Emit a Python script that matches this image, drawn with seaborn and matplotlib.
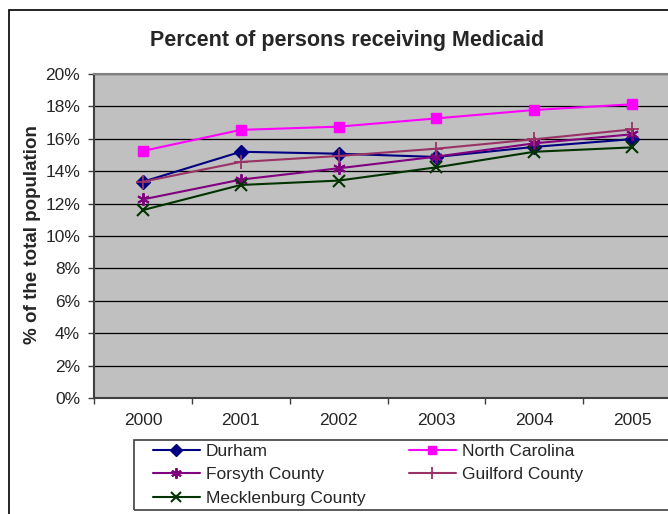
import matplotlib
matplotlib.use("Agg")
import matplotlib.pyplot as plt
from matplotlib.patches import Rectangle
from matplotlib.ticker import FixedLocator, FuncFormatter
import seaborn as sns
import pandas as pd
import numpy as np

years = ["2000", "2001", "2002", "2003", "2004", "2005"]
durham = [13.35, 15.20, 15.08, 14.88, 15.50, 15.98]
north_carolina = [15.25, 16.55, 16.75, 17.26, 17.78, 18.13]
forsyth = [12.26, 13.48, 14.18, 14.90, 15.72, 16.28]
guilford = [13.35, 14.57, 14.94, 15.39, 15.97, 16.58]
mecklenburg = [11.60, 13.15, 13.42, 14.24, 15.20, 15.47]

series_names = ["Durham", "North Carolina", "Forsyth County",
                "Guilford County", "Mecklenburg County"]
series_values = [durham, north_carolina, forsyth, guilford, mecklenburg]
y_ticks = [0, 2, 4, 6, 8, 10, 12, 14, 16, 18, 20]

title = "Percent of persons receiving Medicaid"
y_label = "% of the total population"

sns.set_style("white")
plt.rcParams["font.family"] = ["Liberation Sans", "DejaVu Sans"]

styles = {
    "Durham": dict(color="#000080", marker="D", markersize=7.2, markeredgewidth=1.0),
    "North Carolina": dict(color="#FF00FF", marker="s", markersize=6.8, markeredgewidth=1.0),
    "Forsyth County": dict(color="#800080", marker=(6, 2, 0), markersize=9, markeredgewidth=1.4),
    "Guilford County": dict(color="#993366", marker="+", markersize=10, markeredgewidth=1.3),
    "Mecklenburg County": dict(color="#003300", marker="x", markersize=8, markeredgewidth=1.5),
}

W, H = 668, 514
fig = plt.figure(figsize=(W / 100, H / 100), dpi=100)
ax = fig.add_axes([94 / W, 1 - 398 / H, (681 - 94) / W, 324 / H])
ax.set_facecolor("#C0C0C0")

df = pd.DataFrame({
    "Year": np.tile(years, len(series_names)),
    "Series": np.repeat(series_names, len(years)),
    "Value": np.concatenate(series_values),
})

for name in series_names:
    st = styles[name]
    sub = df[df["Series"] == name]
    sns.lineplot(data=sub, x="Year", y="Value", ax=ax, label=name,
                 color=st["color"], marker=st["marker"],
                 markersize=st["markersize"],
                 markeredgecolor=st["color"], markerfacecolor=st["color"],
                 markeredgewidth=st["markeredgewidth"], linewidth=1.5,
                 zorder=3)

ax.set_xlim(-0.5, len(years) - 0.5)
ax.set_ylim(0, 20)
ax.set_xlabel("")
ax.set_ylabel("")

ax.yaxis.set_major_locator(FixedLocator(y_ticks))
ax.yaxis.set_major_formatter(FuncFormatter(lambda v, p: f"{v:.0f}%"))
ax.grid(axis="y", color="black", linewidth=0.9, zorder=1)
ax.set_axisbelow(True)

# category boundaries as major ticks, labels on minor ticks at centers
ax.xaxis.set_major_locator(FixedLocator(np.arange(-0.5, len(years), 1.0)))
ax.xaxis.set_major_formatter(FuncFormatter(lambda v, p: ""))
ax.xaxis.set_minor_locator(FixedLocator(np.arange(len(years))))
ax.xaxis.set_minor_formatter(FuncFormatter(lambda v, p: years[int(round(v))]))
ax.tick_params(axis="x", which="major", direction="out", length=4, width=1,
               color="#404040", bottom=True)
ax.tick_params(axis="x", which="minor", length=0, pad=11, labelsize=12.5,
               bottom=True)
ax.tick_params(axis="y", which="major", direction="out", length=4, width=1,
               color="#404040", pad=6, labelsize=12.5, left=True)

for side in ["left", "bottom"]:
    ax.spines[side].set_color("#404040")
    ax.spines[side].set_linewidth(1.5)
ax.spines["top"].set_color("#808080")
ax.spines["top"].set_linewidth(1.5)
ax.spines["right"].set_visible(False)

fig.text(347 / W, 1 - 46 / H, title, ha="center", va="baseline",
         fontsize=15.5, fontweight="bold")
fig.text(33 / W, 1 - 235 / H, y_label, ha="center", va="center",
         rotation=90, fontsize=13.5, fontweight="bold")

# legend
handles, labels = ax.get_legend_handles_labels()
ax.get_legend().remove()
order = [0, 2, 4, 1, 3]
leg = fig.legend([handles[i] for i in order], [labels[i] for i in order],
                 loc="upper left", bbox_to_anchor=(153 / W, 1 - 444 / H),
                 bbox_transform=fig.transFigure, ncol=2, frameon=False,
                 fontsize=12.5, handlelength=2.7, handletextpad=0.35,
                 columnspacing=2.5, labelspacing=0.47, borderpad=0,
                 borderaxespad=0)
for h in leg.legend_handles:
    h.set_markersize(h.get_markersize() * 0.85)
fig.patches.append(Rectangle((134 / W, 1 - 510 / H), 700 / W, 70 / H,
                             transform=fig.transFigure, fill=False,
                             edgecolor="#404040", linewidth=1.2))
# outer chart border
fig.patches.append(Rectangle((9 / W, -0.1), 1.2, 1 - 10 / H + 0.1,
                             transform=fig.transFigure, fill=False,
                             edgecolor="black", linewidth=1.2))

fig.savefig("out.png", dpi=100)
